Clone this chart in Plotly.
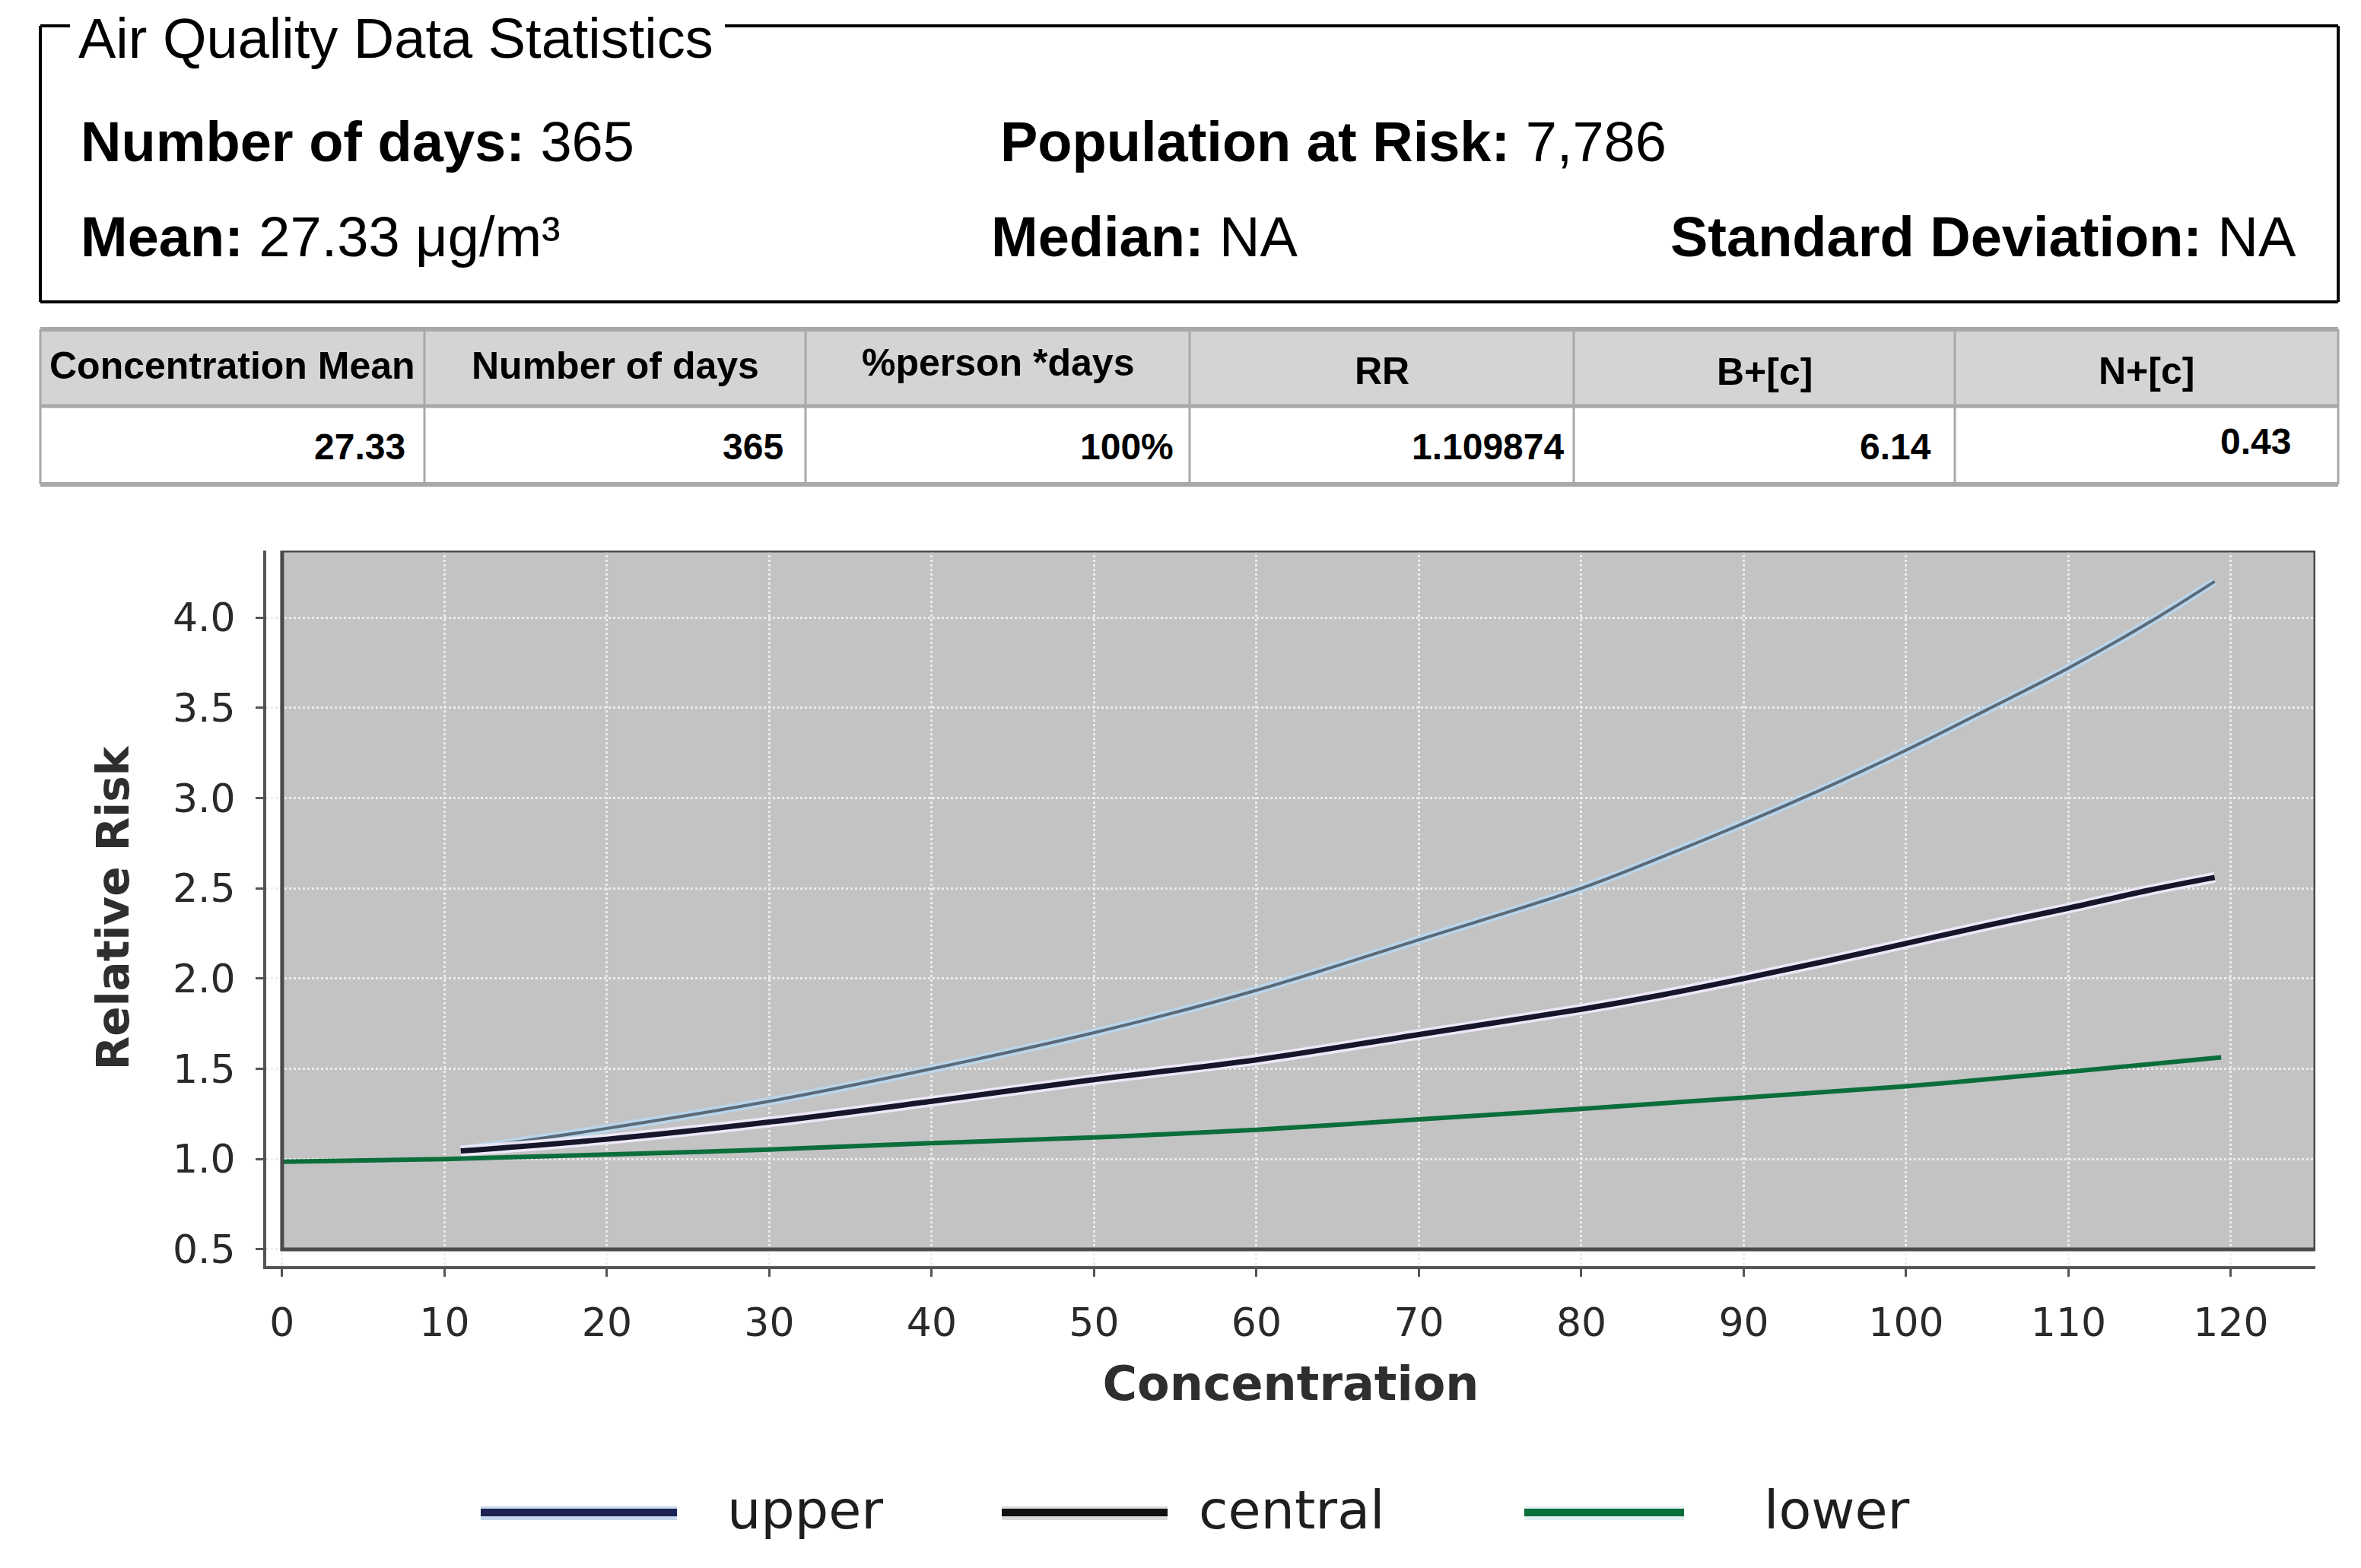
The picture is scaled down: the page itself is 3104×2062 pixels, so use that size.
import plotly.graph_objects as go

W, H = 3104, 2062

# curve data
conc_lower = [0, 10, 20, 30, 40, 50, 60, 70, 80, 90, 100, 110, 119.4]
rr_lower = [0.985, 1.0, 1.025, 1.053, 1.088, 1.12, 1.162, 1.22, 1.278, 1.34, 1.403, 1.483, 1.563]

conc_band = [11, 20, 30, 40, 50, 60, 70, 80, 85, 90, 95, 100, 105, 110, 115, 119]
rr_upper = [1.05, 1.17, 1.32, 1.50, 1.70, 1.935, 2.215, 2.50, 2.675, 2.86, 3.055, 3.265, 3.49, 3.72, 3.975, 4.20]
rr_central = [1.045, 1.11, 1.205, 1.32, 1.44, 1.55, 1.69, 1.83, 1.91, 2.0, 2.095, 2.195, 2.295, 2.39, 2.49, 2.56]

x_ticks = [0, 10, 20, 30, 40, 50, 60, 70, 80, 90, 100, 110, 120]
y_ticks = [0.5, 1.0, 1.5, 2.0, 2.5, 3.0, 3.5, 4.0]

# summary box texts
stats_rows = [
    [("Number of days:", "365"), ("Population at Risk:", "7,786")],
    [("Mean:", "27.33 μg/m³"), ("Median:", "NA"), ("Standard Deviation:", "NA")],
]
table_header = ["Concentration Mean", "Number of days", "%person *days", "RR", "B+[c]", "N+[c]"]
table_values = ["27.33", "365", "100%", "1.109874", "6.14", "0.43"]

legend_names = ["upper", "central", "lower"]


def px(x):
    return x / W


def py(y):
    return 1 - y / H


ARIAL = "Arial, Liberation Sans, sans-serif"
VERD = "DejaVu Sans, Verdana, sans-serif"

fig = go.Figure()

# halo + core lines
fig.add_trace(go.Scatter(x=conc_band, y=rr_upper, mode="lines", showlegend=False, line_shape="spline",
                         line=dict(color="rgba(185,215,238,0.9)", width=11), hoverinfo="skip"))
fig.add_trace(go.Scatter(x=conc_band, y=rr_upper, mode="lines", name="upper", showlegend=False,
                         line_shape="spline", line=dict(color="#5a6a78", width=4)))
fig.add_trace(go.Scatter(x=conc_band, y=rr_central, mode="lines", showlegend=False, line_shape="spline",
                         line=dict(color="rgba(238,234,250,0.95)", width=14), hoverinfo="skip"))
fig.add_trace(go.Scatter(x=conc_band, y=rr_central, mode="lines", name="central", showlegend=False,
                         line_shape="spline", line=dict(color="#16162a", width=7)))
fig.add_trace(go.Scatter(x=conc_lower, y=rr_lower, mode="lines", name="lower", showlegend=False,
                         line_shape="spline", line=dict(color="#0b6e3b", width=6)))

x_rng = [-0.98, 125.2]
y_rng = [0.407, 4.371]

shapes = []
# grey plot frame (below grid) and its border (above)
shapes.append(dict(type="rect", xref="x", yref="y", x0=0, x1=x_rng[1], y0=0.5, y1=y_rng[1],
                   fillcolor="#c3c3c3", line=dict(width=0), layer="below"))
shapes.append(dict(type="rect", xref="x", yref="y", x0=0, x1=x_rng[1], y0=0.5, y1=y_rng[1],
                   fillcolor="rgba(0,0,0,0)", line=dict(color="#4a4a4a", width=5), layer="above"))

# summary box with title gap
box = dict(color="black", width=4)
for x0, y0, x1, y1 in [(53, 34, 92, 34), (953, 34, 3074, 34), (53, 34, 53, 397),
                       (3074, 34, 3074, 397), (53, 397, 3074, 397)]:
    shapes.append(dict(type="line", xref="paper", yref="paper", x0=px(x0), y0=py(y0),
                       x1=px(x1), y1=py(y1), line=box))

annotations = []
annotations.append(dict(text="Air Quality Data Statistics", x=px(101), y=py(50), xref="paper", yref="paper",
                        xanchor="left", yanchor="middle", showarrow=False,
                        font=dict(family=ARIAL, size=74, color="black")))
row_y = [186, 311]
row_x = [[104, 1313], [104, 1301, 2194]]
for r, row in enumerate(stats_rows):
    for c, (label, val) in enumerate(row):
        annotations.append(dict(text="<b>%s</b> %s" % (label, val), x=px(row_x[r][c]), y=py(row_y[r]),
                                xref="paper", yref="paper", xanchor="left", yanchor="middle",
                                showarrow=False, font=dict(family=ARIAL, size=74, color="black")))

# table
col_edges = [53, 558, 1059, 1564, 2069, 2570, 3074]
t_top, t_mid, t_bot = 433, 534, 637
shapes.append(dict(type="rect", xref="paper", yref="paper", x0=px(53), x1=px(3074), y0=py(t_top), y1=py(t_mid),
                   fillcolor="#d4d4d4", line=dict(width=0), layer="below"))
grey = "#a8a8a8"
for yy, wd in [(t_top, 6), (t_mid, 5), (t_bot, 6)]:
    shapes.append(dict(type="line", xref="paper", yref="paper", x0=px(53), x1=px(3074), y0=py(yy), y1=py(yy),
                       line=dict(color=grey, width=wd)))
for xx in col_edges:
    shapes.append(dict(type="line", xref="paper", yref="paper", x0=px(xx), x1=px(xx), y0=py(t_top), y1=py(t_bot),
                       line=dict(color=grey, width=3)))
value_right = [535, 1032, 1545, 2059, 2541, 3014]
value_y = [588, 588, 588, 588, 588, 580]
header_y = [481, 481, 477, 488, 489, 488]
for i, (hd, val) in enumerate(zip(table_header, table_values)):
    cx = (col_edges[i] + col_edges[i + 1]) / 2
    annotations.append(dict(text="<b>%s</b>" % hd, x=px(cx), y=py(header_y[i]), xref="paper", yref="paper",
                            xanchor="center", yanchor="middle", showarrow=False,
                            font=dict(family=ARIAL, size=50, color="black")))
    annotations.append(dict(text="<b>%s</b>" % val, x=px(value_right[i]), y=py(value_y[i]), xref="paper",
                            yref="paper", xanchor="right", yanchor="middle", showarrow=False,
                            font=dict(family=ARIAL, size=48, color="black")))

# legend drawn below the chart
leg_line = [(632, 890), (1317, 1535), (2004, 2214)]
leg_text_x = [954, 1574, 2317]
leg_core = ["#1c2352", "#111111", "#0a6e3a"]
leg_halo = ["#c9d9ec", "#dcdcdc", "#e4eef4"]
for i, name in enumerate(legend_names):
    x0, x1 = leg_line[i]
    shapes.append(dict(type="line", xref="paper", yref="paper", x0=px(x0), x1=px(x1), y0=py(1990), y1=py(1990),
                       line=dict(color=leg_halo[i], width=18)))
    shapes.append(dict(type="line", xref="paper", yref="paper", x0=px(x0), x1=px(x1), y0=py(1989), y1=py(1989),
                       line=dict(color=leg_core[i], width=10)))
    annotations.append(dict(text=name, x=px(leg_text_x[i]), y=py(1986), xref="paper", yref="paper",
                            xanchor="left", yanchor="middle", showarrow=False,
                            font=dict(family=VERD, size=70, color="#1e1e1e")))

axis_common = dict(showline=True, linecolor="#555555", linewidth=4, ticks="outside", ticklen=10,
                   tickwidth=3, tickcolor="#555555", showgrid=True, gridcolor="#ececec", gridwidth=3,
                   griddash="dot", zeroline=False, automargin=False,
                   tickfont=dict(family=VERD, size=52, color="#2a2a2a"))

fig.update_layout(
    width=W, height=H, template="none",
    margin=dict(l=0, r=0, t=0, b=0, pad=0),
    paper_bgcolor="white", plot_bgcolor="white",
    showlegend=False,
    xaxis=dict(domain=[px(350), px(3044)], range=x_rng, tickvals=x_ticks, ticklabelstandoff=16,
               title=dict(text="<b>Concentration</b>", standoff=30,
                          font=dict(family=VERD, size=62, color="#2e2e2e")),
               **axis_common),
    yaxis=dict(domain=[py(1665), py(724)], range=y_rng, tickvals=y_ticks, tickformat=".1f",
               ticklabelstandoff=16,
               title=dict(text="<b>Relative Risk</b>", standoff=40,
                          font=dict(family=VERD, size=58, color="#2e2e2e")),
               **axis_common),
    shapes=shapes,
    annotations=annotations,
)

fig.write_html("out.html", config={"displayModeBar": False},
               post_script="document.body.style.margin='0';document.body.style.overflow='hidden';")
